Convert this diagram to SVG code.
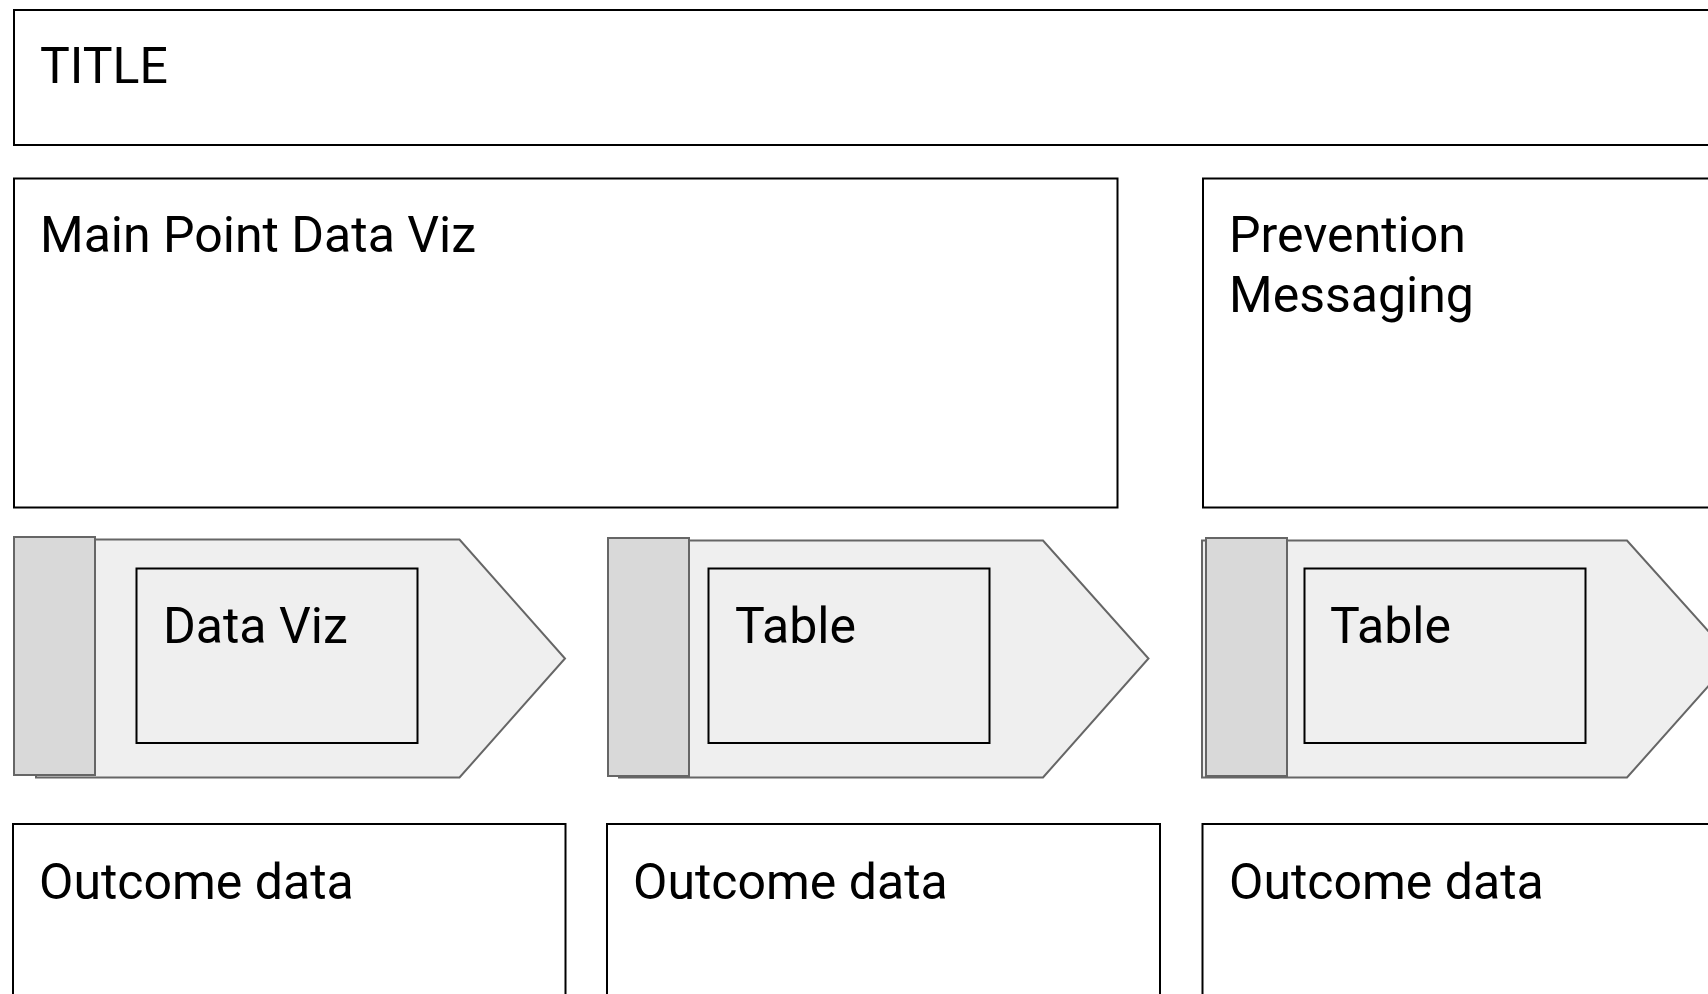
<svg xmlns="http://www.w3.org/2000/svg" width="1708" height="994" viewBox="0 0 1708 994">
<style>
.box{fill:#ffffff;stroke:#000000;stroke-width:2}
.inner{fill:#efefef;stroke:#000000;stroke-width:2}
.body{fill:#efefef;stroke:#666666;stroke-width:2;stroke-linejoin:miter}
.tab{fill:#d9d9d9;stroke:#666666;stroke-width:2}
.lbl{font-family:Roboto,"Liberation Sans",sans-serif;font-size:50px;fill:#000000}
</style>
<rect width="1708" height="994" fill="#ffffff"/>
<g id="title">
<rect class="box" x="14" y="10" width="1710" height="135"/>
<text class="lbl" x="40" y="83">TITLE</text>
</g>
<g id="main-point">
<rect class="box" x="14" y="178.5" width="1103.5" height="329"/>
<text class="lbl" x="40" y="252">Main Point Data Viz</text>
</g>
<g id="prevention">
<rect class="box" x="1203" y="178.5" width="520" height="329"/>
<text class="lbl" x="1229" y="252">Prevention</text>
<text class="lbl" x="1229" y="312">Messaging</text>
</g>
<g id="step1">
<polygon class="body" points="36,539.5 459.5,539.5 565,658.5 459.5,777.5 36,777.5"/>
<rect class="tab" x="14" y="537" width="81" height="238"/>
<rect class="inner" x="136.5" y="568.5" width="281" height="174.5"/>
<text class="lbl" x="163" y="643">Data Viz</text>
</g>
<g id="step2">
<polygon class="body" points="619,540.5 1043,540.5 1148.5,658.5 1043,777.5 619,777.5"/>
<rect class="tab" x="608" y="538" width="81" height="238"/>
<rect class="inner" x="708.5" y="568.5" width="281" height="174.5"/>
<text class="lbl" x="735" y="643">Table</text>
</g>
<g id="step3">
<polygon class="body" points="1202,540.5 1627,540.5 1733,658.5 1627,777.5 1202,777.5"/>
<rect class="tab" x="1206" y="538" width="81" height="238"/>
<rect class="inner" x="1304.5" y="568.5" width="281" height="174.5"/>
<text class="lbl" x="1330" y="643">Table</text>
</g>
<g id="outcome1">
<rect class="box" x="13" y="824" width="552.5" height="200"/>
<text class="lbl" x="39" y="899">Outcome data</text>
</g>
<g id="outcome2">
<rect class="box" x="607" y="824" width="553" height="200"/>
<text class="lbl" x="633" y="899">Outcome data</text>
</g>
<g id="outcome3">
<rect class="box" x="1202.5" y="824" width="530" height="200"/>
<text class="lbl" x="1229" y="899">Outcome data</text>
</g>
<g id="connectors"></g>
</svg>
